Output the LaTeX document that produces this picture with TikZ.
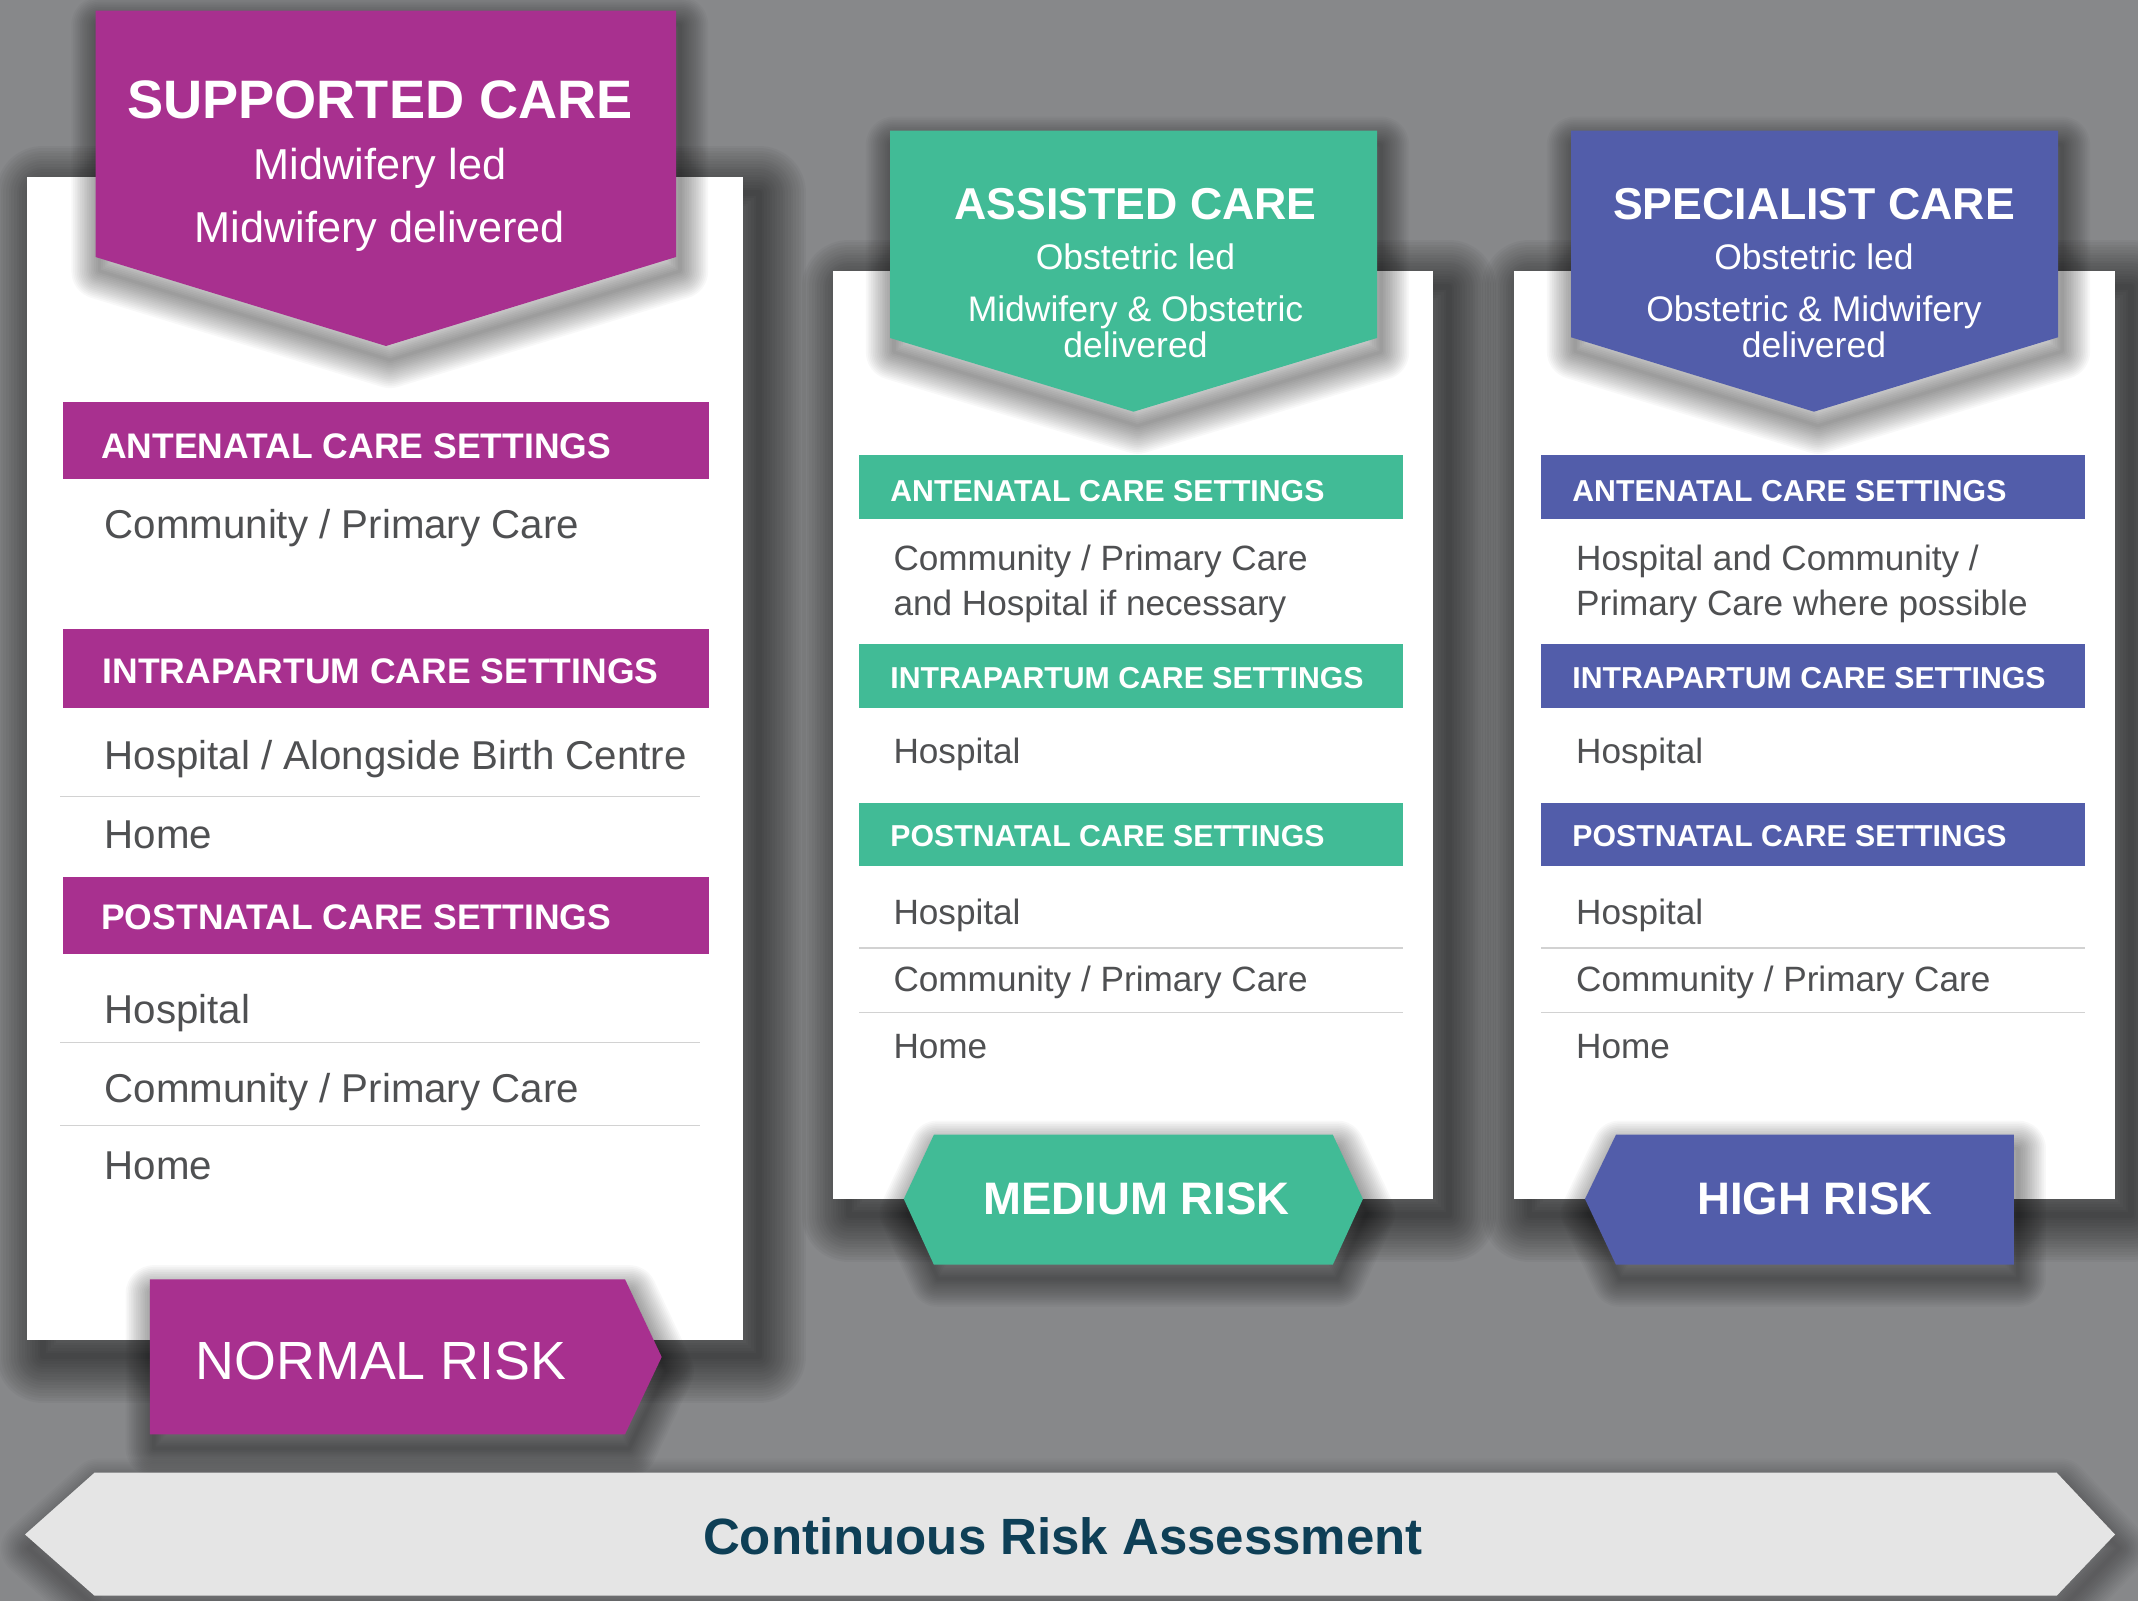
\documentclass[tikz,border=0pt]{standalone}
\usepackage{fontspec}
\setmainfont{Liberation Sans}

\definecolor{suppc}{HTML}{A8308F}
\definecolor{assc}{HTML}{41BB96}
\definecolor{specc}{HTML}{525DAA}
\definecolor{bggray}{HTML}{87888A}
\definecolor{bodytxt}{HTML}{4F5052}
\definecolor{rulegray}{HTML}{D2D2D2}
\definecolor{arrowgray}{HTML}{E5E5E5}
\definecolor{crtxt}{HTML}{0E3F56}

\begin{document}
\begin{tikzpicture}[x=0.01cm, y=-0.01cm,
  every node/.style={inner sep=0pt},
  shadowlayer/.style={black, opacity=#1, line join=round},
  bigttl/.style={anchor=base, text=white, font=\fontsize{15.4}{18}\selectfont\bfseries},
  bigsub/.style={anchor=base, text=white, font=\fontsize{12.3}{14}\selectfont},
  ttl/.style={anchor=base, text=white, font=\fontsize{12.7}{15}\selectfont\bfseries},
  sub/.style={anchor=base, text=white, font=\fontsize{10.1}{12}\selectfont},
  lhead/.style={anchor=base west, text=white, font=\fontsize{10.1}{12}\selectfont\bfseries},
  mhead/.style={anchor=base west, text=white, font=\fontsize{8.6}{10}\selectfont\bfseries},
  lbody/.style={anchor=base west, text=bodytxt, font=\fontsize{11.45}{13}\selectfont},
  mbody/.style={anchor=base west, text=bodytxt, font=\fontsize{10}{12}\selectfont},
  risk/.style={anchor=base, text=white, font=\fontsize{12.95}{15}\selectfont\bfseries},
  sepline/.style={rulegray, line width=0.45pt}]
\useasboundingbox (0,0) rectangle (2138,1601);
\fill[bggray] (0,0) rectangle (2138,1601);

% panel shadows
\begin{scope}[shift={(16,16)}]
\foreach \w in {1.5,3,...,27} {
  \draw[shadowlayer=0.032, line width=\w pt] (27,177) rectangle (743,1340);
  \draw[shadowlayer=0.032, line width=\w pt] (833,271) rectangle (1433,1199);
  \draw[shadowlayer=0.032, line width=\w pt] (1513.5,271) rectangle (2115,1199);
}
\end{scope}

% white panels
\fill[white] (27,177) rectangle (743,1340);
\fill[white] (833,271) rectangle (1433,1199);
\fill[white] (1513.5,271) rectangle (2115,1199);

% supported care column
\fill[suppc] (63,402) rectangle (708.5,478.7);
\fill[suppc] (63,629) rectangle (708.5,707.7);
\fill[suppc] (63,876.7) rectangle (708.5,953.7);
\draw[sepline] (60,796.7) -- (700,796.7);
\draw[sepline] (60,1042.7) -- (700,1042.7);
\draw[sepline] (60,1125.3) -- (700,1125.3);
\node (supante) [lhead] at (100.6,458.3) {ANTENATAL CARE SETTINGS};
\node (supante1) [lbody] at (104,538.3) {Community / Primary Care};
\node (supintra) [lhead] at (102,683.3) {INTRAPARTUM CARE SETTINGS};
\node (supintra1) [lbody] at (104,770) {Hospital / Alongside Birth Centre};
\node (supintra2) [lbody] at (104,849) {Home};
\node (suppost) [lhead] at (100.6,930) {POSTNATAL CARE SETTINGS};
\node (suppost1) [lbody] at (104,1023.3) {Hospital};
\node (suppost2) [lbody] at (104,1102.7) {Community / Primary Care};
\node (suppost3) [lbody] at (104,1180) {Home};

% assisted care column
\fill[assc] (858.8,455) rectangle (1402.6,518.8);
\fill[assc] (858.8,644) rectangle (1402.6,707.8);
\fill[assc] (858.8,802.9) rectangle (1402.6,866.5);
\draw[sepline] (859,948.2) -- (1402.6,948.2);
\draw[sepline] (859,1012.7) -- (1402.6,1012.7);
\node (assante) [mhead] at (889.7,502) {ANTENATAL CARE SETTINGS};
\node (assante1) [mbody] at (892.8,570.6) {Community / Primary Care};
\node (assante2) [mbody] at (892.8,615.5) {and Hospital if necessary};
\node (assintra) [mhead] at (889.7,689) {INTRAPARTUM CARE SETTINGS};
\node (assintra1) [mbody] at (892.8,763.3) {Hospital};
\node (asspost) [mhead] at (889.7,847) {POSTNATAL CARE SETTINGS};
\node (asspost1) [mbody] at (892.8,924.9) {Hospital};
\node (asspost2) [mbody] at (892.8,991.8) {Community / Primary Care};
\node (asspost3) [mbody] at (892.8,1058.4) {Home};

% specialist care column
\fill[specc] (1541,455) rectangle (2085.3,518.8);
\fill[specc] (1541,644) rectangle (2085.3,707.8);
\fill[specc] (1541,802.9) rectangle (2085.3,866.5);
\draw[sepline] (1541,948.2) -- (2085.3,948.2);
\draw[sepline] (1541,1012.7) -- (2085.3,1012.7);
\node (specante) [mhead] at (1571.7,502) {ANTENATAL CARE SETTINGS};
\node (specante1) [mbody] at (1575.5,570.6) {Hospital and Community /};
\node (specante2) [mbody] at (1575.5,615.5) {Primary Care where possible};
\node (specintra) [mhead] at (1571.7,689) {INTRAPARTUM CARE SETTINGS};
\node (specintra1) [mbody] at (1575.5,763.3) {Hospital};
\node (specpost) [mhead] at (1571.7,847) {POSTNATAL CARE SETTINGS};
\node (specpost1) [mbody] at (1575.5,924.9) {Hospital};
\node (specpost2) [mbody] at (1575.5,991.8) {Community / Primary Care};
\node (specpost3) [mbody] at (1575.5,1058.4) {Home};

% banner and tag shadows
\begin{scope}[shift={(4,14)}]
\foreach \w in {1,2,...,16} {
  \draw[shadowlayer=0.026, line width=\w pt] (95.5,10.7) -- (676,10.7) -- (676,257) -- (386,346) -- (95.5,257) -- cycle;
  \draw[shadowlayer=0.026, line width=\w pt] (890,130.7) -- (1377,130.7) -- (1377,338) -- (1133.6,411.7) -- (890,338) -- cycle;
  \draw[shadowlayer=0.026, line width=\w pt] (1571,130.7) -- (2058,130.7) -- (2058,337.3) -- (1814,411.7) -- (1571,337.3) -- cycle;
  \draw[shadowlayer=0.026, line width=\w pt] (149.8,1279.3) -- (625,1279.3) -- (661.7,1357) -- (625,1434.3) -- (149.8,1434.3) -- cycle;
  \draw[shadowlayer=0.026, line width=\w pt] (903.8,1199) -- (933.9,1134.7) -- (1332.8,1134.7) -- (1362.9,1199) -- (1332.8,1264.7) -- (933.9,1264.7) -- cycle;
  \draw[shadowlayer=0.026, line width=\w pt] (1585,1199) -- (1616,1134.7) -- (2013.8,1134.7) -- (2013.8,1264.7) -- (1616,1264.7) -- cycle;
  \draw[shadowlayer=0.02, line width=\w pt] (25,1534.5) -- (94.5,1472.7) -- (2056.7,1472.7) -- (2115,1534.5) -- (2056.7,1595.7) -- (94.5,1595.7) -- cycle;
}
\end{scope}

% banners
\fill[suppc] (95.5,10.7) -- (676,10.7) -- (676,257) -- (386,346) -- (95.5,257) -- cycle;
\node (supttl) [bigttl] at (380,118.3) {SUPPORTED CARE};
\node (supled) [bigsub] at (380,180) {Midwifery led};
\node (supdel) [bigsub] at (380,242.7) {Midwifery delivered};

\fill[assc] (890,130.7) -- (1377,130.7) -- (1377,338) -- (1133.6,411.7) -- (890,338) -- cycle;
\node (assttl) [ttl] at (1135.5,219.3) {ASSISTED CARE};
\node (assled) [sub] at (1135.5,270) {Obstetric led};
\node (assdel) [sub] at (1135.5,322) {Midwifery \& Obstetric};
\node (assdel2) [sub] at (1135.5,357.3) {delivered};

\fill[specc] (1571,130.7) -- (2058,130.7) -- (2058,337.3) -- (1814,411.7) -- (1571,337.3) -- cycle;
\node (specttl) [ttl] at (1814,219.3) {SPECIALIST CARE};
\node (specled) [sub] at (1814,270) {Obstetric led};
\node (specdel) [sub] at (1814,322) {Obstetric \& Midwifery};
\node (specdel2) [sub] at (1814,357.3) {delivered};

% risk tags
\fill[suppc] (149.8,1279.3) -- (625,1279.3) -- (661.7,1357) -- (625,1434.3) -- (149.8,1434.3) -- cycle;
\node (normal) [anchor=base, text=white, font=\fontsize{15.3}{18}\selectfont] at (381,1379.3) {NORMAL RISK};

\fill[assc] (903.8,1199) -- (933.9,1134.7) -- (1332.8,1134.7) -- (1362.9,1199) -- (1332.8,1264.7) -- (933.9,1264.7) -- cycle;
\node (medium) [risk] at (1136.6,1215) {MEDIUM RISK};

\fill[specc] (1585,1199) -- (1616,1134.7) -- (2013.8,1134.7) -- (2013.8,1264.7) -- (1616,1264.7) -- cycle;
\node (high) [risk] at (1815,1215) {HIGH RISK};

% assessment arrow
\fill[arrowgray] (25,1534.5) -- (94.5,1472.7) -- (2056.7,1472.7) -- (2115,1534.5) -- (2056.7,1595.7) -- (94.5,1595.7) -- cycle;
\node (assess) [anchor=base, text=crtxt, font=\fontsize{14.5}{17}\selectfont\bfseries] at (1063,1555) {Continuous Risk Assessment};
\end{tikzpicture}
\end{document}
